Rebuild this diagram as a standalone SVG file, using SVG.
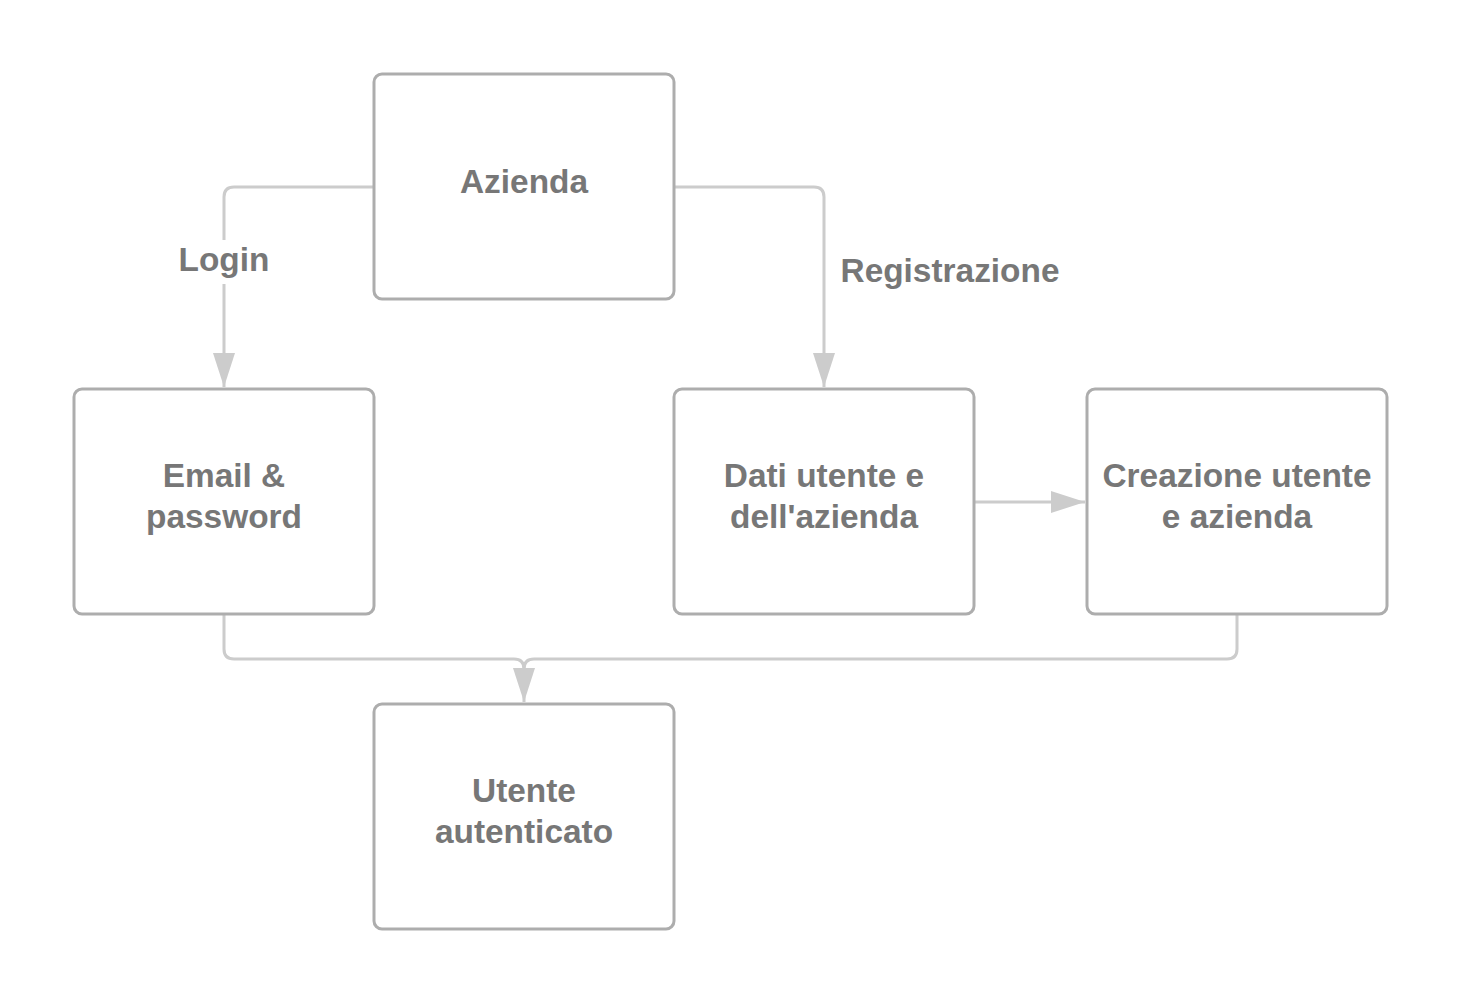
<svg xmlns="http://www.w3.org/2000/svg" width="1463" height="1005" viewBox="0 0 1463 1005">
<defs>
<style>
.box{fill:#fff;stroke:#adadad;stroke-width:3}
.lnk{fill:none;stroke:#cccccc;stroke-width:3}
.t{font-family:"Liberation Sans",Arial,sans-serif;font-weight:bold;font-size:33.4px;fill:#777777;text-anchor:middle}
</style>
<marker id="ah" markerWidth="36" markerHeight="24" viewBox="0 0 36 24" refX="34" refY="12" orient="auto" markerUnits="userSpaceOnUse">
<path d="M0,1 L34,12 L0,23 Z" fill="#cccccc"/>
</marker>
</defs>
<rect width="1463" height="1005" fill="#fff"/>
<g id="connectors">
<path class="lnk" d="M374,187 H234 Q224,187 224,197 V387" marker-end="url(#ah)"/>
<path class="lnk" d="M674,187 H814 Q824,187 824,197 V387" marker-end="url(#ah)"/>
<path class="lnk" d="M974,502 H1085" marker-end="url(#ah)"/>
<path class="lnk" d="M224,614 V649 Q224,659 234,659 H514 Q524,659 524,669 V702" marker-end="url(#ah)"/>
<path class="lnk" d="M1237,614 V649 Q1237,659 1227,659 H534 Q524,659 524,669"/>
<rect x="170" y="240" width="108" height="44" fill="#fff"/>
<text class="t" x="224" y="271">Login</text>
<text class="t" x="950" y="282">Registrazione</text>
</g>
<g id="azienda">
<rect class="box" x="374" y="74" width="300" height="225" rx="8"/>
<text class="t" x="524" y="193">Azienda</text>
</g>
<g id="email">
<rect class="box" x="74" y="389" width="300" height="225" rx="8"/>
<text class="t" x="224" y="487">Email &amp;</text>
<text class="t" x="224" y="528">password</text>
</g>
<g id="dati">
<rect class="box" x="674" y="389" width="300" height="225" rx="8"/>
<text class="t" x="824" y="487">Dati utente e</text>
<text class="t" x="824" y="528">dell'azienda</text>
</g>
<g id="creazione">
<rect class="box" x="1087" y="389" width="300" height="225" rx="8"/>
<text class="t" x="1237" y="487">Creazione utente</text>
<text class="t" x="1237" y="528">e azienda</text>
</g>
<g id="utente">
<rect class="box" x="374" y="704" width="300" height="225" rx="8"/>
<text class="t" x="524" y="802">Utente</text>
<text class="t" x="524" y="843">autenticato</text>
</g>
</svg>
